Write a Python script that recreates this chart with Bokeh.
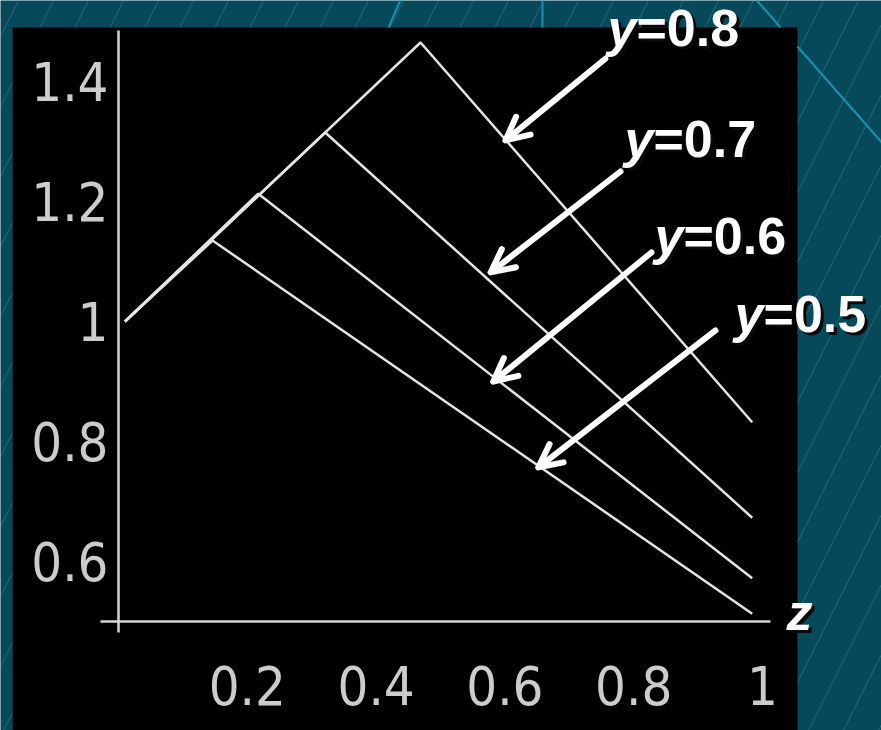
from bokeh.plotting import figure
from bokeh.models import (LinearAxis, FixedTicker, BoxAnnotation, Arrow, OpenHead,
                          ColumnDataSource, Range1d)
from bokeh.core.properties import value
from bokeh.embed import file_html
from bokeh.resources import INLINE

# ---- data ----
y_params = [0.8, 0.7, 0.6, 0.5]
label_values = ["=0.8", "=0.7", "=0.6", "=0.5"]
start_z = 0.01
start_v = 1.0
peak_z = [0.469, 0.321, 0.217, 0.146]
peak_v = [1.465, 1.315, 1.213, 1.135]
end_z = [0.984, 0.984, 0.984, 0.984]
end_v = [0.832, 0.673, 0.572, 0.513]

x_ticks = [0.2, 0.4, 0.6, 0.8, 1.0]
x_tick_labels = ["0.2", "0.4", "0.6", "0.8", "1"]
y_ticks = [0.6, 0.8, 1.0, 1.2, 1.4]
y_tick_labels = ["0.6", "0.8", "1", "1.2", "1.4"]

# annotation positions (data units)
label_z = [0.8043, 0.8307, 0.8773, 1.0016]
label_v = [1.4884, 1.3034, 1.1417, 1.0117]
arrow_tail_z = [0.756, 0.7795, 0.8276, 0.927]
arrow_tail_v = [1.438, 1.250, 1.115, 0.985]
arrow_tip_z = [0.601, 0.578, 0.582, 0.652]
arrow_tip_v = [1.302, 1.082, 0.900, 0.757]
axis_label_z = [1.0373]
axis_label_v = [0.515]

BG = "#06495a"
AXC = "#d6d6d6"
LINE = "#e4e4e4"

p = figure(width=881, height=730, x_range=Range1d(-0.18323, 1.18478),
           y_range=Range1d(0.31833, 1.535), x_axis_type=None, y_axis_type=None,
           toolbar_location=None, output_backend="svg", min_border=0,
           background_fill_color=BG, border_fill_color=BG, outline_line_color=None,
           title=None)

# background stripes
p.add_layout(BoxAnnotation(fill_alpha=0, line_color=None, hatch_pattern="/",
                           hatch_color="#6aa8b4", hatch_alpha=0.3, hatch_scale=70,
                           hatch_weight=1, level="underlay"))
# black panel
p.add_layout(BoxAnnotation(left=-0.1646, right=1.0543, top=1.49, fill_color="black",
                           fill_alpha=1, line_color=None, level="underlay"))

# decorative cyan lines of the slide background
deco = ColumnDataSource(dict(x0=[0.4193, 0.6584, 0.9845, 1.0543],
                             y0=[1.49, 1.49, 1.5433, 1.4583],
                             x1=[0.441, 0.6584, 1.028, 1.1988],
                             y1=[1.5433, 1.5433, 1.49, 1.2817]))
p.segment(x0="x0", y0="y0", x1="x1", y1="y1", source=deco, line_color="#1b8fb0",
          line_width=2)

# axes
common = dict(axis_line_color=AXC, axis_line_width=2.5, major_tick_line_color=None,
              minor_tick_line_color=None, major_tick_out=0, major_tick_in=0,
              minor_tick_out=0, minor_tick_in=0,
              major_label_text_font="DejaVu Sans Condensed, DejaVu Sans",
              major_label_text_font_size="54px", major_label_text_color="#cccccc")
xaxis = LinearAxis(fixed_location=0.5, bounds=(-0.028, 1.012),
                   ticker=FixedTicker(ticks=x_ticks),
                   major_label_overrides=dict(zip(x_ticks, x_tick_labels)),
                   major_label_standoff=45, **common)
p.add_layout(xaxis, "below")
yaxis = LinearAxis(fixed_location=0.0, bounds=(0.4817, 1.485),
                   ticker=FixedTicker(ticks=y_ticks),
                   major_label_overrides=dict(zip(y_ticks, y_tick_labels)),
                   major_label_standoff=10, **common)
p.add_layout(yaxis, "left")

# curves
xs = [[start_z, pz, ez] for pz, ez in zip(peak_z, end_z)]
ys = [[start_v, pv, ev] for pv, ev in zip(peak_v, end_v)]
p.multi_line(xs=xs, ys=ys, line_color=LINE, line_width=2.5)

# arrows
arrow_src = ColumnDataSource(dict(x0=arrow_tail_z, y0=arrow_tail_v,
                                  x1=arrow_tip_z, y1=arrow_tip_v))
p.add_layout(Arrow(end=OpenHead(size=23, line_width=6, line_color="white",
                                line_cap="round", line_join="round"),
                   x_start="x0", y_start="y0", x_end="x1", y_end="y1",
                   source=arrow_src, line_width=6, line_color="white",
                   line_cap="round"))

# labels
lab = ColumnDataSource(dict(x=label_z, y=label_v, v=label_values,
                            yy=["y"] * len(label_z)))
FONT = value("Liberation Sans")
SIZE = value("52px")
for color, off in (("#0a0a0a", 3), ("white", 0)):
    p.text(x="x", y="y", text="yy", source=lab, text_font=FONT, text_font_size=SIZE,
           text_font_style="bold italic", text_color=color, text_align="right",
           text_baseline="alphabetic", x_offset=off, y_offset=off)
    p.text(x="x", y="y", text="v", source=lab, text_font=FONT, text_font_size=SIZE,
           text_font_style="bold", text_color=color, text_align="left",
           text_baseline="alphabetic", x_offset=off, y_offset=off)
    p.text(x=axis_label_z, y=axis_label_v, text=["z"], text_font=FONT,
           text_font_size=SIZE, text_font_style="bold italic", text_color=color,
           text_align="left", text_baseline="alphabetic", x_offset=off, y_offset=off)

open("out.html", "w").write(file_html(p, INLINE))
